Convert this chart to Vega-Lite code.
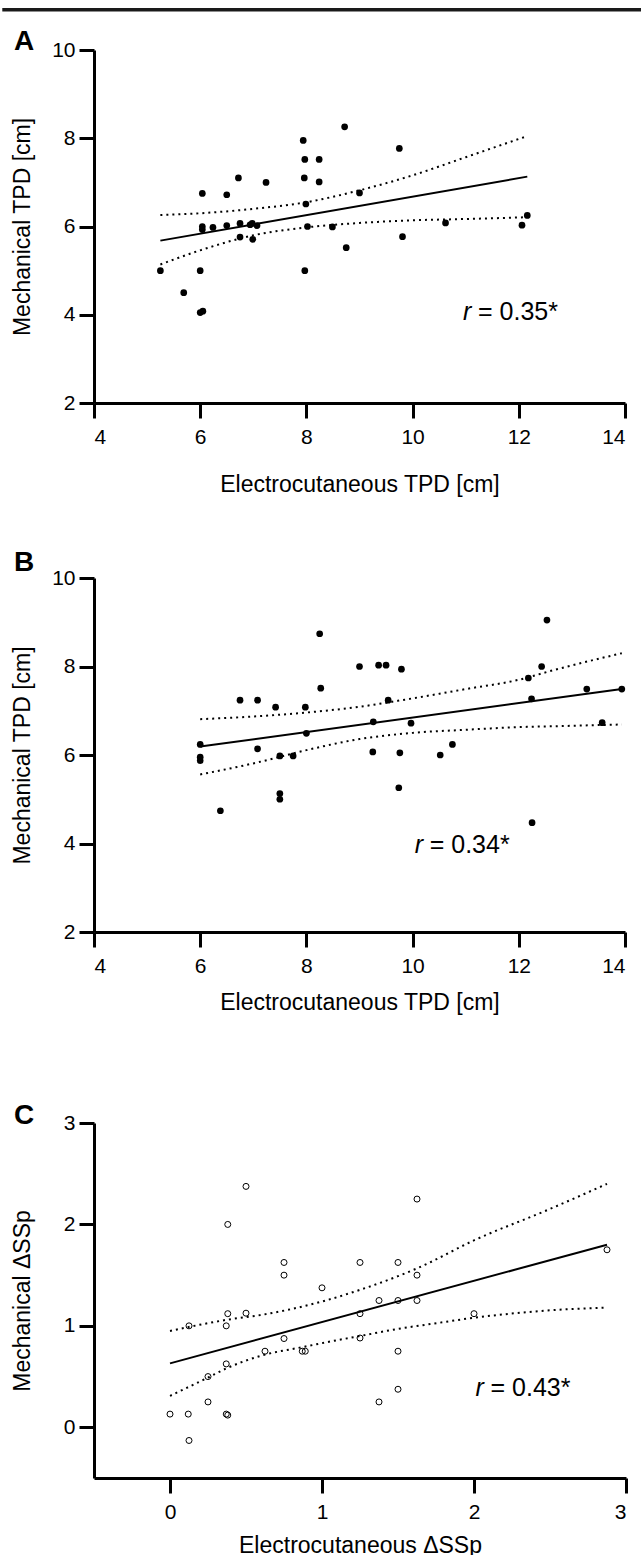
{
  "$schema": "https://vega.github.io/schema/vega-lite/v6.json",
  "padding": {"left": 0, "top": 7, "right": 0, "bottom": 0},
  "background": "white",
  "spacing": 53,
  "config": {
    "font": "Liberation Sans",
    "view": {"stroke": null},
    "axis": {
      "domainColor": "black", "domainWidth": 3, "tickColor": "black", "tickWidth": 3, "tickSize": 15,
      "labelFontSize": 21, "labelColor": "black", "labelFont": "Liberation Sans",
      "titleFontSize": 23, "titleFontWeight": "normal", "titleColor": "black", "titleFont": "Liberation Sans",
      "grid": false, "format": "d"
    },
    "axisX": {"labelPadding": 8},
    "axisY": {"labelPadding": 4},
    "title": {"fontSize": 28, "fontWeight": "bold", "anchor": "start", "frame": "group", "color": "black", "font": "Liberation Sans", "offset": 0}
  },
  "datasets": {
    "a_pts": [
      {"x": 5.25, "y": 5.0}, {"x": 5.69, "y": 4.5}, {"x": 6.0, "y": 5.0}, {"x": 6.0, "y": 4.05}, {"x": 6.05, "y": 4.08},
      {"x": 6.04, "y": 6.75}, {"x": 6.04, "y": 6.0}, {"x": 6.04, "y": 5.93}, {"x": 6.24, "y": 5.98}, {"x": 6.5, "y": 6.72},
      {"x": 6.5, "y": 6.02}, {"x": 6.72, "y": 7.1}, {"x": 6.75, "y": 6.07}, {"x": 6.75, "y": 5.76}, {"x": 6.94, "y": 6.04},
      {"x": 6.98, "y": 6.07}, {"x": 7.07, "y": 6.02}, {"x": 6.99, "y": 5.71}, {"x": 7.24, "y": 7.0}, {"x": 7.94, "y": 7.95},
      {"x": 7.97, "y": 7.52}, {"x": 7.96, "y": 7.1}, {"x": 7.99, "y": 6.51}, {"x": 8.02, "y": 6.0}, {"x": 7.97, "y": 5.0},
      {"x": 8.24, "y": 7.52}, {"x": 8.24, "y": 7.01}, {"x": 8.49, "y": 5.99}, {"x": 8.72, "y": 8.26}, {"x": 8.75, "y": 5.52},
      {"x": 9.0, "y": 6.76}, {"x": 9.75, "y": 7.77}, {"x": 9.81, "y": 5.77}, {"x": 10.62, "y": 6.08}, {"x": 12.06, "y": 6.03},
      {"x": 12.16, "y": 6.25}
    ],
    "a_lines": [
      {"curve": "fit", "x": 5.25, "y": 5.68}, {"curve": "fit", "x": 12.16, "y": 7.13},
      {"curve": "upper", "x": 5.25, "y": 6.26}, {"curve": "upper", "x": 6.0, "y": 6.3}, {"curve": "upper", "x": 7.0, "y": 6.4},
      {"curve": "upper", "x": 8.0, "y": 6.55}, {"curve": "upper", "x": 9.0, "y": 6.82}, {"curve": "upper", "x": 10.0, "y": 7.16},
      {"curve": "upper", "x": 11.0, "y": 7.57}, {"curve": "upper", "x": 12.16, "y": 8.05},
      {"curve": "lower", "x": 5.25, "y": 5.14}, {"curve": "lower", "x": 6.0, "y": 5.46}, {"curve": "lower", "x": 7.0, "y": 5.8},
      {"curve": "lower", "x": 8.0, "y": 5.98}, {"curve": "lower", "x": 9.0, "y": 6.08}, {"curve": "lower", "x": 10.0, "y": 6.14},
      {"curve": "lower", "x": 11.0, "y": 6.17}, {"curve": "lower", "x": 12.16, "y": 6.21}
    ],
    "b_pts": [
      {"x": 6.0, "y": 6.24}, {"x": 6.0, "y": 5.95}, {"x": 6.0, "y": 5.87}, {"x": 6.38, "y": 4.74}, {"x": 6.75, "y": 7.24},
      {"x": 7.08, "y": 7.24}, {"x": 7.08, "y": 6.14}, {"x": 7.42, "y": 7.08}, {"x": 7.5, "y": 5.98}, {"x": 7.5, "y": 5.13},
      {"x": 7.5, "y": 5.0}, {"x": 7.75, "y": 5.98}, {"x": 7.98, "y": 7.08}, {"x": 8.0, "y": 6.49}, {"x": 8.25, "y": 8.74},
      {"x": 8.27, "y": 7.51}, {"x": 9.0, "y": 8.0}, {"x": 9.26, "y": 6.75}, {"x": 9.25, "y": 6.07}, {"x": 9.36, "y": 8.03},
      {"x": 9.5, "y": 8.03}, {"x": 9.54, "y": 7.24}, {"x": 9.76, "y": 6.05}, {"x": 9.74, "y": 5.26}, {"x": 9.79, "y": 7.94},
      {"x": 9.97, "y": 6.72}, {"x": 10.52, "y": 6.0}, {"x": 10.75, "y": 6.24}, {"x": 12.18, "y": 7.74}, {"x": 12.24, "y": 7.27},
      {"x": 12.25, "y": 4.47}, {"x": 12.43, "y": 8.0}, {"x": 12.53, "y": 9.05}, {"x": 13.28, "y": 7.49}, {"x": 13.94, "y": 7.49},
      {"x": 13.57, "y": 6.73}
    ],
    "b_lines": [
      {"curve": "fit", "x": 6.0, "y": 6.19}, {"curve": "fit", "x": 13.94, "y": 7.49},
      {"curve": "upper", "x": 6.0, "y": 6.81}, {"curve": "upper", "x": 7.0, "y": 6.87}, {"curve": "upper", "x": 8.0, "y": 6.96},
      {"curve": "upper", "x": 9.0, "y": 7.09}, {"curve": "upper", "x": 10.0, "y": 7.28}, {"curve": "upper", "x": 11.0, "y": 7.49},
      {"curve": "upper", "x": 12.0, "y": 7.7}, {"curve": "upper", "x": 12.66, "y": 7.92}, {"curve": "upper", "x": 13.94, "y": 8.3},
      {"curve": "lower", "x": 6.0, "y": 5.56}, {"curve": "lower", "x": 7.0, "y": 5.81}, {"curve": "lower", "x": 8.0, "y": 6.11},
      {"curve": "lower", "x": 9.0, "y": 6.36}, {"curve": "lower", "x": 10.0, "y": 6.5}, {"curve": "lower", "x": 11.0, "y": 6.57},
      {"curve": "lower", "x": 12.0, "y": 6.63}, {"curve": "lower", "x": 12.66, "y": 6.65}, {"curve": "lower", "x": 13.94, "y": 6.69}
    ],
    "c_pts": [
      {"x": 0.0, "y": 0.13}, {"x": 0.12, "y": 0.13}, {"x": 0.125, "y": -0.13}, {"x": 0.125, "y": 1.0}, {"x": 0.25, "y": 0.25},
      {"x": 0.25, "y": 0.5}, {"x": 0.37, "y": 0.13}, {"x": 0.38, "y": 0.12}, {"x": 0.37, "y": 0.625}, {"x": 0.37, "y": 1.0},
      {"x": 0.38, "y": 1.12}, {"x": 0.38, "y": 2.0}, {"x": 0.5, "y": 2.375}, {"x": 0.5, "y": 1.125}, {"x": 0.625, "y": 0.75},
      {"x": 0.75, "y": 0.875}, {"x": 0.75, "y": 1.625}, {"x": 0.75, "y": 1.5}, {"x": 0.87, "y": 0.75}, {"x": 0.89, "y": 0.75},
      {"x": 1.0, "y": 1.375}, {"x": 1.25, "y": 1.625}, {"x": 1.25, "y": 1.12}, {"x": 1.25, "y": 0.88}, {"x": 1.375, "y": 1.25},
      {"x": 1.375, "y": 0.25}, {"x": 1.5, "y": 1.625}, {"x": 1.5, "y": 1.25}, {"x": 1.5, "y": 0.75}, {"x": 1.5, "y": 0.375},
      {"x": 1.625, "y": 2.25}, {"x": 1.625, "y": 1.5}, {"x": 1.625, "y": 1.25}, {"x": 2.0, "y": 1.12}, {"x": 2.875, "y": 1.75}
    ],
    "c_lines": [
      {"curve": "fit", "x": 0.0, "y": 0.63}, {"curve": "fit", "x": 2.875, "y": 1.8},
      {"curve": "upper", "x": 0.0, "y": 0.95}, {"curve": "upper", "x": 0.375, "y": 1.06}, {"curve": "upper", "x": 0.61, "y": 1.11},
      {"curve": "upper", "x": 1.0, "y": 1.24}, {"curve": "upper", "x": 1.25, "y": 1.355}, {"curve": "upper", "x": 1.5, "y": 1.49},
      {"curve": "upper", "x": 1.63, "y": 1.57}, {"curve": "upper", "x": 2.01, "y": 1.85}, {"curve": "upper", "x": 2.48, "y": 2.14},
      {"curve": "upper", "x": 2.875, "y": 2.4},
      {"curve": "lower", "x": 0.0, "y": 0.31}, {"curve": "lower", "x": 0.25, "y": 0.49}, {"curve": "lower", "x": 0.37, "y": 0.58},
      {"curve": "lower", "x": 0.61, "y": 0.71}, {"curve": "lower", "x": 0.87, "y": 0.79}, {"curve": "lower", "x": 1.07, "y": 0.85},
      {"curve": "lower", "x": 1.25, "y": 0.9}, {"curve": "lower", "x": 1.5, "y": 0.97}, {"curve": "lower", "x": 1.77, "y": 1.03},
      {"curve": "lower", "x": 2.0, "y": 1.08}, {"curve": "lower", "x": 2.24, "y": 1.12}, {"curve": "lower", "x": 2.47, "y": 1.15},
      {"curve": "lower", "x": 2.875, "y": 1.18}
    ],
    "a_txt": [{"x": 10.95, "y": 4.06, "r": "r", "rest": "= 0.35*"}],
    "b_txt": [{"x": 10.04, "y": 3.97, "r": "r", "rest": "= 0.34*"}],
    "c_txt": [{"x": 2.01, "y": 0.385, "r": "r", "rest": "= 0.43*"}],
    "border": [{"element": "top border"}]
  },
  "vconcat": [
    {
      "width": 531, "height": 353,
      "title": {"text": "A", "dx": -80, "dy": 52},
      "layer": [
        {
          "data": {"name": "a_pts"},
          "mark": {"type": "point", "filled": true, "color": "black", "size": 45, "opacity": 1},
          "encoding": {
            "x": {"field": "x", "type": "quantitative", "scale": {"domain": [4, 14], "nice": false, "zero": false},
                  "axis": {"values": [4, 6, 8, 10, 12, 14], "title": "Electrocutaneous TPD [cm]", "titlePadding": 26}},
            "y": {"field": "y", "type": "quantitative", "scale": {"domain": [2, 10], "nice": false, "zero": false},
                  "axis": {"values": [2, 4, 6, 8, 10], "title": "Mechanical TPD [cm]", "titlePadding": 17}}
          }
        },
        {
          "data": {"name": "a_lines"},
          "transform": [{"filter": "datum.curve == 'fit'"}],
          "mark": {"type": "line", "color": "black", "strokeWidth": 2},
          "encoding": {"x": {"field": "x", "type": "quantitative"}, "y": {"field": "y", "type": "quantitative"}}
        },
        {
          "data": {"name": "a_lines"},
          "transform": [{"filter": "datum.curve != 'fit'"}],
          "mark": {"type": "line", "color": "black", "strokeWidth": 2, "strokeDash": [2, 4], "interpolate": "monotone"},
          "encoding": {"x": {"field": "x", "type": "quantitative"}, "y": {"field": "y", "type": "quantitative"}, "detail": {"field": "curve"}}
        },
        {
          "data": {"name": "a_txt"},
          "mark": {"type": "text", "fontSize": 25, "fontStyle": "italic", "align": "left", "baseline": "middle", "color": "black"},
          "encoding": {"x": {"field": "x", "type": "quantitative"}, "y": {"field": "y", "type": "quantitative"}, "text": {"field": "r"}}
        },
        {
          "data": {"name": "a_txt"},
          "mark": {"type": "text", "fontSize": 25, "align": "left", "baseline": "middle", "color": "black", "dx": 15},
          "encoding": {"x": {"field": "x", "type": "quantitative"}, "y": {"field": "y", "type": "quantitative"}, "text": {"field": "rest"}}
        },
        {
          "data": {"name": "border"},
          "mark": {"type": "rule", "color": "#1a1a1a", "strokeWidth": 3.5, "strokeCap": "butt"},
          "encoding": {
            "x": {"datum": 2.273, "type": "quantitative"},
            "x2": {"datum": 14.345},
            "y": {"datum": 10.913, "type": "quantitative"}
          }
        }
      ]
    },
    {
      "width": 531, "height": 354,
      "title": {"text": "B", "dx": -80, "dy": 14},
      "layer": [
        {
          "data": {"name": "b_pts"},
          "mark": {"type": "point", "filled": true, "color": "black", "size": 45, "opacity": 1},
          "encoding": {
            "x": {"field": "x", "type": "quantitative", "scale": {"domain": [4, 14], "nice": false, "zero": false},
                  "axis": {"values": [4, 6, 8, 10, 12, 14], "title": ["Electrocutaneous TPD [cm]", ""], "titleLineHeight": 35, "titlePadding": 15}},
            "y": {"field": "y", "type": "quantitative", "scale": {"domain": [2, 10], "nice": false, "zero": false},
                  "axis": {"values": [2, 4, 6, 8, 10], "title": "Mechanical TPD [cm]", "titlePadding": 17}}
          }
        },
        {
          "data": {"name": "b_lines"},
          "transform": [{"filter": "datum.curve == 'fit'"}],
          "mark": {"type": "line", "color": "black", "strokeWidth": 2},
          "encoding": {"x": {"field": "x", "type": "quantitative"}, "y": {"field": "y", "type": "quantitative"}}
        },
        {
          "data": {"name": "b_lines"},
          "transform": [{"filter": "datum.curve != 'fit'"}],
          "mark": {"type": "line", "color": "black", "strokeWidth": 2, "strokeDash": [2, 4], "interpolate": "monotone"},
          "encoding": {"x": {"field": "x", "type": "quantitative"}, "y": {"field": "y", "type": "quantitative"}, "detail": {"field": "curve"}}
        },
        {
          "data": {"name": "b_txt"},
          "mark": {"type": "text", "fontSize": 25, "fontStyle": "italic", "align": "left", "baseline": "middle", "color": "black"},
          "encoding": {"x": {"field": "x", "type": "quantitative"}, "y": {"field": "y", "type": "quantitative"}, "text": {"field": "r"}}
        },
        {
          "data": {"name": "b_txt"},
          "mark": {"type": "text", "fontSize": 25, "align": "left", "baseline": "middle", "color": "black", "dx": 15},
          "encoding": {"x": {"field": "x", "type": "quantitative"}, "y": {"field": "y", "type": "quantitative"}, "text": {"field": "rest"}}
        }
      ]
    },
    {
      "width": 532, "height": 355,
      "title": {"text": "C", "dx": -80, "dy": 22},
      "layer": [
        {
          "data": {"name": "c_pts"},
          "mark": {"type": "point", "filled": false, "color": "black", "size": 36, "strokeWidth": 1, "opacity": 1},
          "encoding": {
            "x": {"field": "x", "type": "quantitative", "scale": {"domain": [-0.5, 3], "nice": false, "zero": false},
                  "axis": {"values": [0, 1, 2, 3], "title": "Electrocutaneous ΔSSp", "titlePadding": 12}},
            "y": {"field": "y", "type": "quantitative", "scale": {"domain": [-0.5, 3], "nice": false, "zero": false},
                  "axis": {"values": [0, 1, 2, 3], "title": "Mechanical ΔSSp", "titlePadding": 29}}
          }
        },
        {
          "data": {"name": "c_lines"},
          "transform": [{"filter": "datum.curve == 'fit'"}],
          "mark": {"type": "line", "color": "black", "strokeWidth": 2},
          "encoding": {"x": {"field": "x", "type": "quantitative"}, "y": {"field": "y", "type": "quantitative"}}
        },
        {
          "data": {"name": "c_lines"},
          "transform": [{"filter": "datum.curve != 'fit'"}],
          "mark": {"type": "line", "color": "black", "strokeWidth": 2, "strokeDash": [2, 4], "interpolate": "monotone"},
          "encoding": {"x": {"field": "x", "type": "quantitative"}, "y": {"field": "y", "type": "quantitative"}, "detail": {"field": "curve"}}
        },
        {
          "data": {"name": "c_txt"},
          "mark": {"type": "text", "fontSize": 25, "fontStyle": "italic", "align": "left", "baseline": "middle", "color": "black"},
          "encoding": {"x": {"field": "x", "type": "quantitative"}, "y": {"field": "y", "type": "quantitative"}, "text": {"field": "r"}}
        },
        {
          "data": {"name": "c_txt"},
          "mark": {"type": "text", "fontSize": 25, "align": "left", "baseline": "middle", "color": "black", "dx": 15},
          "encoding": {"x": {"field": "x", "type": "quantitative"}, "y": {"field": "y", "type": "quantitative"}, "text": {"field": "rest"}}
        }
      ]
    }
  ]
}
